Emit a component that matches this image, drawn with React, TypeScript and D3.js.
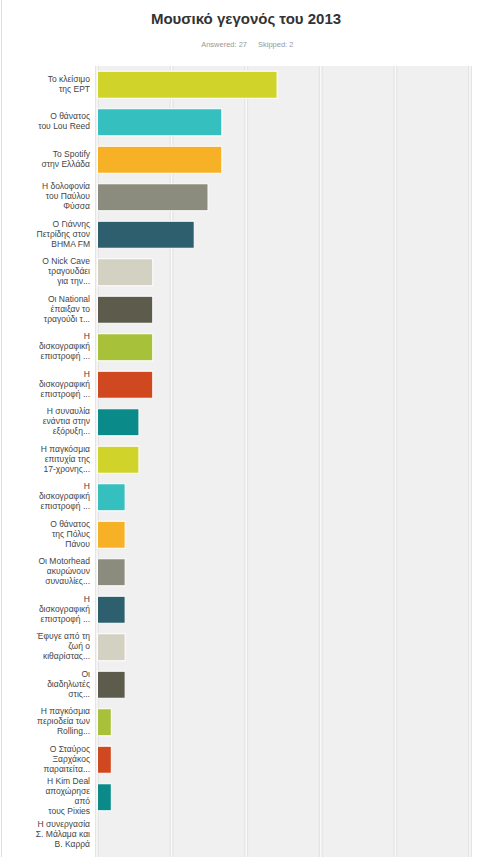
import React, { useEffect, useRef } from 'react';
import * as d3 from 'd3';

const title = 'Μουσικό γεγονός του 2013';
const answered = 'Answered: 27';
const skipped = 'Skipped: 2';

const categories = [
  'Το κλείσιμο\nτης ΕΡΤ',
  'Ο θάνατος\nτου Lou Reed',
  'Το Spotify\nστην Ελλάδα',
  'Η δολοφονία\nτου Παύλου\nΦύσσα',
  'Ο Γιάννης\nΠετρίδης στον\nΒΗΜΑ FM',
  'O Nick Cave\nτραγουδάει\nγια την...',
  'Οι National\nέπαιξαν το\nτραγούδι τ...',
  'Η\nδισκογραφική\nεπιστροφή ...',
  'Η\nδισκογραφική\nεπιστροφή ...',
  'Η συναυλία\nενάντια στην\nεξόρυξη...',
  'Η παγκόσμια\nεπιτυχία της\n17-χρονης...',
  'Η\nδισκογραφική\nεπιστροφή ...',
  'Ο θάνατος\nτης Πόλυς\nΠάνου',
  'Οι Motorhead\nακυρώνουν\nσυναυλίες...',
  'Η\nδισκογραφική\nεπιστροφή ...',
  'Έφυγε από τη\nζωή ο\nκιθαρίστας...',
  'Οι\nδιαδηλωτές\nστις...',
  'Η παγκόσμια\nπεριοδεία των\nRolling...',
  'Ο Σταύρος\nΞαρχάκος\nπαραιτείτα...',
  'Η Kim Deal\nαποχώρησε\nαπό\nτους Pixies',
  'Η συνεργασία\nΣ. Μάλαμα και\nΒ. Καρρά',
];

// percent of respondents
const values = [
  48.15, 33.33, 33.33, 29.63, 25.93, 14.81, 14.81, 14.81, 14.81, 11.11, 11.11,
  7.41, 7.41, 7.41, 7.41, 7.41, 7.41, 3.7, 3.7, 3.7, 0,
];

const gridTicks = [0, 20, 40, 60, 80, 100];

const palette = [
  '#cfd32a', '#35bfbf', '#f7b126', '#8c8c7e', '#2e5f6e',
  '#d3d1c2', '#5c5b4c', '#a7c23a', '#d04820', '#0b8a8a',
];

const W = 491;
const H = 857;

export default function App() {
  const ref = useRef<SVGSVGElement>(null);

  useEffect(() => {
    if (!ref.current) return;
    const svg = d3.select(ref.current);
    svg.selectAll('*').remove();

    const plot = { left: 97, right: 470, top: 66, bottom: 860 };

    const x = d3.scaleLinear().domain([0, 100]).range([plot.left, plot.right]);
    const y = d3.scaleBand<number>()
      .domain(d3.range(categories.length))
      .range([plot.top, plot.top + categories.length * 37.5])
      .paddingInner(0.28)
      .paddingOuter(0.14);

    svg.append('rect').attr('width', W).attr('height', H).attr('fill', '#fff');
    svg.append('line')
      .attr('x1', 1.5).attr('x2', 1.5).attr('y1', 0).attr('y2', H)
      .attr('stroke', '#dedede');

    // title
    svg.append('text')
      .attr('x', 246).attr('y', 24)
      .attr('text-anchor', 'middle')
      .attr('font-family', 'Arial, "Liberation Sans", sans-serif')
      .attr('font-size', 15).attr('font-weight', 'bold')
      .attr('fill', '#333')
      .text(title);

    svg.append('text')
      .attr('x', 247).attr('y', 47)
      .attr('text-anchor', 'end')
      .attr('font-family', 'Arial, "Liberation Sans", sans-serif')
      .attr('font-size', 7.5).attr('fill', '#999')
      .text(answered);
    svg.append('text')
      .attr('x', 258).attr('y', 47)
      .attr('font-family', 'Arial, "Liberation Sans", sans-serif')
      .attr('font-size', 7.5).attr('fill', '#999')
      .text(skipped);

    // plot background
    svg.append('rect')
      .attr('x', plot.left).attr('y', plot.top)
      .attr('width', plot.right - plot.left)
      .attr('height', plot.bottom - plot.top)
      .attr('fill', '#f0f0f0');

    // grid
    const grid = svg.append('g');
    grid.selectAll('.gs')
      .data(gridTicks)
      .enter().append('line')
      .attr('x1', d => x(d)).attr('x2', d => x(d))
      .attr('y1', plot.top).attr('y2', plot.bottom)
      .attr('stroke', '#e4e4e4').attr('stroke-width', 4);
    grid.selectAll('.gl')
      .data(gridTicks)
      .enter().append('line')
      .attr('x1', d => x(d)).attr('x2', d => x(d))
      .attr('y1', plot.top).attr('y2', plot.bottom)
      .attr('stroke', '#fafafa').attr('stroke-width', 1.5);

    // bars
    svg.append('g').selectAll('rect')
      .data(values)
      .enter().append('rect')
      .attr('x', x(0) + 0.5)
      .attr('y', (d, i) => y(i) || 0)
      .attr('width', d => Math.max(0, x(d) - x(0)))
      .attr('height', y.bandwidth())
      .attr('fill', (d, i) => palette[i % palette.length])
      .attr('stroke', d => (d > 0 ? '#fff' : 'none'))
      .attr('stroke-width', 1);

    // category labels
    const lh = 10;
    const labels = svg.append('g')
      .attr('font-family', 'Arial, "Liberation Sans", sans-serif')
      .attr('font-size', 8.5)
      .attr('fill', '#444')
      .attr('text-anchor', 'end');
    categories.forEach((c, i) => {
      const lines = c.split('\n');
      const cy = (y(i) || 0) + y.bandwidth() / 2 - 1;
      const t = labels.append('text')
        .attr('x', 90)
        .attr('y', cy - ((lines.length - 1) * lh) / 2)
        .attr('dy', '0.35em');
      lines.forEach((l, j) => {
        t.append('tspan')
          .attr('x', 90)
          .attr('dy', j === 0 ? '0.35em' : lh)
          .text(l);
      });
    });
  }, []);

  return (
    <div style={{ position: 'absolute', left: 0, top: 0 }}>
      <svg ref={ref} width={W} height={H} style={{ display: 'block' }}></svg>
    </div>
  );
}
